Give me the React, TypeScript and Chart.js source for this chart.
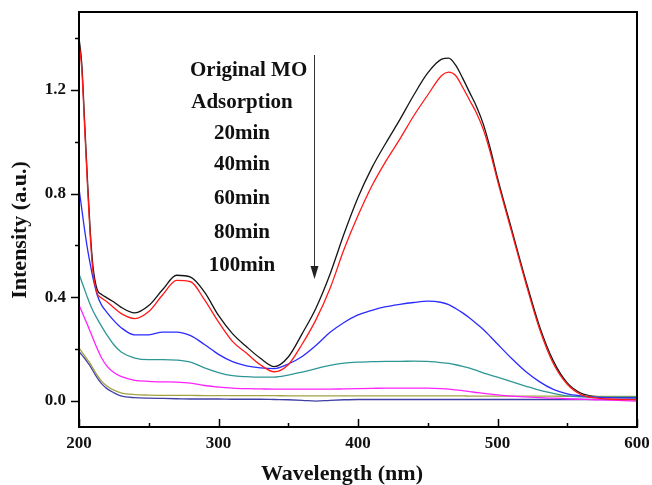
import React, { useEffect, useRef } from "react";
import { Chart, registerables } from "chart.js";

Chart.register(...registerables);

// Wavelength grid (nm) shared by every spectrum
const wavelengths = [
  200, 202, 204, 206, 208, 210, 213, 216, 220, 225, 230, 240, 250, 260, 270, 280, 290, 300, 310, 320,
  330, 340, 350, 360, 370, 380, 390, 400, 410, 420, 430, 440, 450, 460, 465, 470, 475, 480, 485, 490,
  495, 500, 510, 520, 530, 540, 550, 560, 570, 580, 590, 600,
];

const originalMO = [
  1.4, 1.3, 1.08, 0.86, 0.66, 0.52, 0.43, 0.412, 0.398, 0.382, 0.362, 0.34, 0.368, 0.43, 0.485, 0.478, 0.42, 0.33, 0.26, 0.21,
  0.165, 0.133, 0.17, 0.26, 0.36, 0.49, 0.645, 0.785, 0.9, 0.995, 1.085, 1.18, 1.265, 1.318, 1.322, 1.295, 1.245, 1.19, 1.135, 1.065,
  0.97, 0.86, 0.665, 0.47, 0.29, 0.155, 0.07, 0.03, 0.018, 0.015, 0.014, 0.013,
];

const adsorption = [
  1.38, 1.28, 1.06, 0.84, 0.64, 0.5, 0.415, 0.398, 0.383, 0.36, 0.338, 0.318, 0.345, 0.41, 0.465, 0.46, 0.39, 0.305, 0.23, 0.185,
  0.14, 0.113, 0.14, 0.22, 0.315, 0.435, 0.585, 0.715, 0.83, 0.925, 1.01, 1.1, 1.18, 1.255, 1.268, 1.255, 1.21, 1.16, 1.11, 1.045,
  0.955, 0.85, 0.655, 0.46, 0.28, 0.145, 0.065, 0.025, 0.012, 0.008, 0.006, 0.005,
];

const min20 = [
  0.82, 0.74, 0.66, 0.59, 0.53, 0.475, 0.41, 0.372, 0.342, 0.31, 0.284, 0.255, 0.255, 0.266, 0.266, 0.252, 0.218, 0.18, 0.152, 0.136,
  0.128, 0.125, 0.143, 0.172, 0.215, 0.265, 0.303, 0.332, 0.35, 0.364, 0.373, 0.38, 0.385, 0.38, 0.372, 0.357, 0.34, 0.32, 0.298, 0.275,
  0.248, 0.22, 0.165, 0.115, 0.075, 0.045, 0.028, 0.02, 0.015, 0.013, 0.012, 0.012,
];

const min40 = [
  0.49, 0.46, 0.43, 0.4, 0.372, 0.348, 0.318, 0.29, 0.255, 0.217, 0.19, 0.166, 0.16, 0.16, 0.158, 0.15, 0.128, 0.11, 0.098, 0.094,
  0.092, 0.092, 0.1, 0.112, 0.125, 0.138, 0.146, 0.15, 0.152, 0.153, 0.153, 0.154, 0.153, 0.148, 0.145, 0.14, 0.134, 0.127, 0.118, 0.108,
  0.1, 0.092, 0.075, 0.058, 0.042, 0.03, 0.02, 0.016, 0.015, 0.015, 0.015, 0.015,
];

const min60 = [
  0.37, 0.345, 0.32, 0.295, 0.268, 0.242, 0.203, 0.168, 0.135, 0.11, 0.095, 0.08, 0.076, 0.074, 0.073, 0.069, 0.06, 0.054, 0.05, 0.048,
  0.047, 0.046, 0.046, 0.046, 0.046, 0.046, 0.047, 0.048, 0.049, 0.05, 0.05, 0.05, 0.05, 0.048, 0.046, 0.043, 0.04, 0.036, 0.033, 0.03,
  0.027, 0.024, 0.019, 0.016, 0.013, 0.011, 0.009, 0.007, 0.005, 0.004, 0.002, 0.0,
];

const min80 = [
  0.205, 0.19, 0.175, 0.16, 0.145, 0.127, 0.1, 0.078, 0.058, 0.042, 0.032, 0.025, 0.023, 0.022, 0.022, 0.022, 0.021, 0.021, 0.021, 0.021,
  0.021, 0.021, 0.02, 0.02, 0.02, 0.02, 0.02, 0.02, 0.02, 0.02, 0.02, 0.02, 0.02, 0.02, 0.02, 0.02, 0.02, 0.019, 0.019, 0.019,
  0.019, 0.019, 0.019, 0.019, 0.019, 0.019, 0.018, 0.018, 0.018, 0.018, 0.018, 0.018,
];

const min100 = [
  0.19, 0.178, 0.165, 0.15, 0.135, 0.117, 0.09, 0.068, 0.048, 0.032, 0.02, 0.013, 0.011, 0.01, 0.009, 0.008, 0.008, 0.008, 0.007, 0.007,
  0.007, 0.006, 0.005, 0.003, 0.0, 0.003, 0.005, 0.006, 0.006, 0.006, 0.006, 0.006, 0.006, 0.006, 0.006, 0.006, 0.006, 0.006, 0.006, 0.006,
  0.006, 0.006, 0.006, 0.006, 0.006, 0.006, 0.006, 0.006, 0.006, 0.006, 0.006, 0.006,
];

const seriesNames = ["Original MO", "Adsorption", "20min", "40min", "60min", "80min", "100min"];
const seriesValues = [originalMO, adsorption, min20, min40, min60, min80, min100];
const seriesColors = ["#141414", "#ff1a1a", "#2b2bff", "#2f9696", "#ff22ff", "#a3a245", "#3f3fa6"];

// Axis ticks
const xMajorTicks = [200, 300, 400, 500, 600];
const xMinorTicks = [250, 350, 450, 550];
const yMajorTicks = [0, 0.4, 0.8, 1.2];
const yMinorTicks = [0.2, 0.6, 1.0, 1.4];

const xTitle = "Wavelength (nm)";
const yTitle = "Intensity (a.u.)";

const SERIF = '"Liberation Serif", "Times New Roman", serif';

// Frame, inward/outward tick marks, axis titles, the legend column and the time arrow
const decorations = {
  id: "decorations",
  afterDraw(chart: any) {
    const { ctx, chartArea: a, scales } = chart;
    const xs = scales.x;
    const ys = scales.y;
    ctx.save();
    ctx.strokeStyle = "#000";
    ctx.lineWidth = 2;
    ctx.strokeRect(a.left, a.top, a.right - a.left, a.bottom - a.top);

    ctx.lineWidth = 1.5;
    ctx.beginPath();
    xMajorTicks.forEach((v) => {
      const px = Math.round(xs.getPixelForValue(v)) + 0.5;
      ctx.moveTo(px, a.bottom);
      ctx.lineTo(px, a.bottom - 8);
    });
    xMinorTicks.forEach((v) => {
      const px = Math.round(xs.getPixelForValue(v)) + 0.5;
      ctx.moveTo(px, a.bottom);
      ctx.lineTo(px, a.bottom - 4);
    });
    yMajorTicks.forEach((v) => {
      const py = Math.round(ys.getPixelForValue(v)) + 0.5;
      ctx.moveTo(a.left, py);
      ctx.lineTo(a.left - 8, py);
    });
    yMinorTicks.forEach((v) => {
      const py = Math.round(ys.getPixelForValue(v)) + 0.5;
      ctx.moveTo(a.left, py);
      ctx.lineTo(a.left - 4, py);
    });
    ctx.stroke();

    ctx.fillStyle = "#111";
    ctx.font = `bold 22px ${SERIF}`;
    ctx.textAlign = "center";
    ctx.textBaseline = "alphabetic";
    ctx.fillText(xTitle, 342, 480);

    ctx.save();
    ctx.translate(26, 230);
    ctx.rotate(-Math.PI / 2);
    ctx.fillText(yTitle, 0, 0);
    ctx.restore();

    // series names listed in order of the arrow
    ctx.font = `bold 21px ${SERIF}`;
    const baselines = [76, 108, 139, 170, 204, 238, 271];
    seriesNames.forEach((name, i) => {
      if (i === 0) {
        ctx.textAlign = "left";
        ctx.fillText(name, 190, baselines[i]);
      } else {
        ctx.textAlign = "center";
        ctx.fillText(name, 242, baselines[i]);
      }
    });

    ctx.strokeStyle = "#333";
    ctx.fillStyle = "#222";
    ctx.lineWidth = 1;
    ctx.beginPath();
    ctx.moveTo(314.5, 55);
    ctx.lineTo(314.5, 268);
    ctx.stroke();
    ctx.beginPath();
    ctx.moveTo(310.5, 266);
    ctx.lineTo(318.5, 266);
    ctx.lineTo(314.5, 279);
    ctx.closePath();
    ctx.fill();
    ctx.restore();
  },
};

export default function App() {
  const canvasRef = useRef<HTMLCanvasElement | null>(null);

  useEffect(() => {
    const canvas = canvasRef.current;
    if (!canvas) return;
    const chart = new Chart(canvas, {
      type: "line",
      data: {
        datasets: seriesValues.map((vals, i) => ({
          label: seriesNames[i],
          data: wavelengths.map((w, j) => ({ x: w, y: vals[j] })),
          borderColor: seriesColors[i],
          backgroundColor: seriesColors[i],
          borderWidth: 1.3,
          pointRadius: 0,
          cubicInterpolationMode: "monotone" as const,
          fill: false,
          order: i === 0 ? 1 : 0,
        })),
      },
      options: {
        responsive: false,
        animation: false,
        devicePixelRatio: 1,
        layout: { padding: { left: 0, top: 12, right: 15, bottom: 0 } },
        plugins: {
          legend: { display: false },
          tooltip: { enabled: false },
          title: { display: false },
        },
        scales: {
          x: {
            type: "linear",
            min: 200,
            max: 600,
            afterBuildTicks: (scale: any) => {
              scale.ticks = xMajorTicks.map((v) => ({ value: v }));
            },
            afterFit: (scale: any) => {
              scale.height = 58;
              scale.paddingLeft = 0;
              scale.paddingRight = 0;
              scale.paddingTop = 0;
              scale.paddingBottom = 0;
            },
            grid: { display: false, drawTicks: false },
            border: { display: false },
            ticks: {
              padding: 6,
              color: "#111",
              font: { family: SERIF, size: 17, weight: "bold" },
              maxRotation: 0,
              callback: (v: any) => String(v),
            },
          },
          y: {
            type: "linear",
            min: -0.1,
            max: 1.5,
            afterBuildTicks: (scale: any) => {
              scale.ticks = yMajorTicks.map((v) => ({ value: v }));
            },
            afterFit: (scale: any) => {
              scale.width = 79;
              scale.paddingLeft = 0;
              scale.paddingRight = 0;
              scale.paddingTop = 0;
              scale.paddingBottom = 0;
            },
            grid: { display: false, drawTicks: false },
            border: { display: false },
            ticks: {
              padding: 13,
              color: "#111",
              font: { family: SERIF, size: 17, weight: "bold" },
              callback: (v: any) => Number(v).toFixed(1),
            },
          },
        },
      },
      plugins: [decorations],
    });
    return () => chart.destroy();
  }, []);

  return (
    <div style={{ position: "absolute", left: 0, top: 0, width: 652, height: 485, background: "#fff" }}>
      <canvas ref={canvasRef} width={652} height={485} style={{ display: "block" }} />
    </div>
  );
}
